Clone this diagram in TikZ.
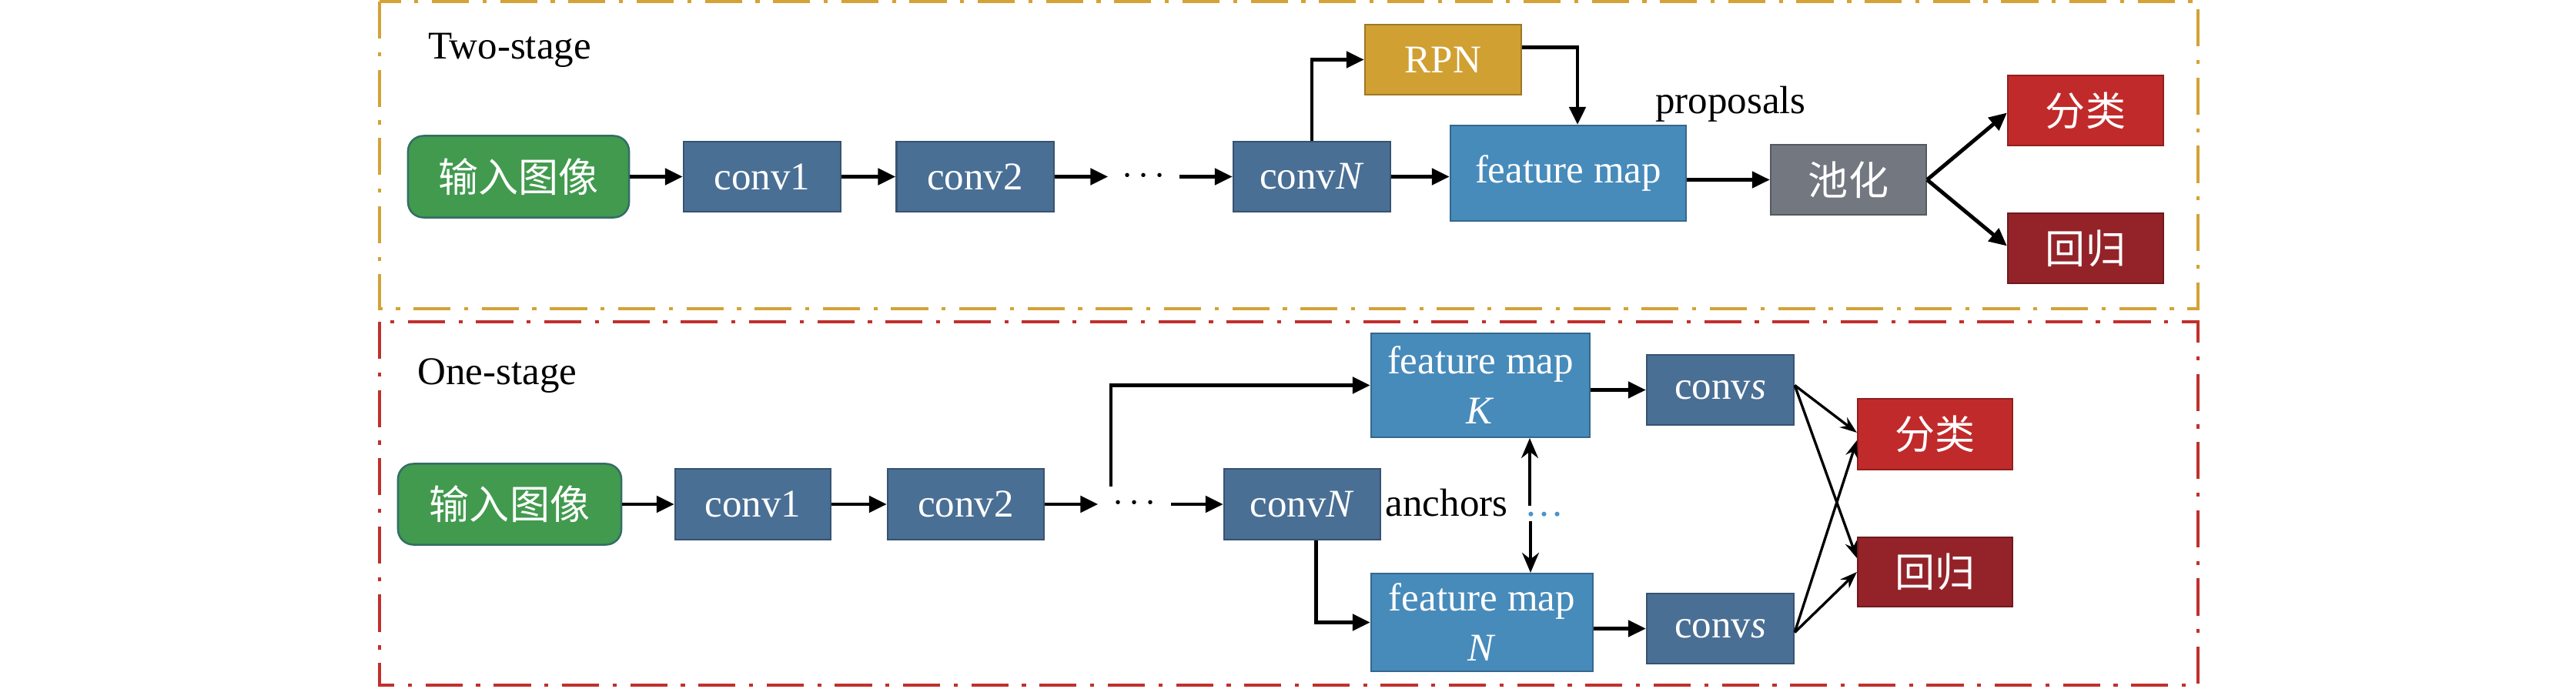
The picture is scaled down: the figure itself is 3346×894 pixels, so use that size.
\documentclass[tikz,border=0pt]{standalone}
\usepackage{fontspec}
\setmainfont{Liberation Serif}
\newfontfamily\cjk{Noto Sans CJK SC}
\usetikzlibrary{arrows.meta,calc}
\definecolor{goldframe}{HTML}{D4A236}
\definecolor{redframe}{HTML}{C1302C}
\definecolor{ingreen}{HTML}{419A4E}
\definecolor{inborder}{HTML}{336D66}
\definecolor{convblue}{HTML}{4A6F95}
\definecolor{fmblue}{HTML}{478BBB}
\definecolor{rpngold}{HTML}{D1A032}
\definecolor{poolgray}{HTML}{737780}
\definecolor{clsred}{HTML}{C12A2A}
\definecolor{regred}{HTML}{932329}
\definecolor{dotblue}{HTML}{4A93CC}
\newcommand{\mydots}{$\vcenter{\hbox{${\cdotp}\mkern2.5mu{\cdotp}\mkern2.5mu{\cdotp}$}}$}
\begin{document}
\begin{tikzpicture}[x=0.01cm,y=-0.01cm,
  every node/.style={font=\fontsize{14.5}{18.5}\selectfont},
  box/.style={draw=#1!75!black, fill=#1, line width=0.6pt, text=white, inner sep=0pt, align=center},
  convbox/.style={box=convblue, minimum width=2.04cm, minimum height=0.91cm},
  fmbox/.style={box=fmblue},
  cjkbox/.style={box=#1, minimum width=2.02cm, minimum height=0.91cm, font=\fontsize{14.8}{18}\selectfont\cjk},
  ingbox/.style={draw=inborder, fill=ingreen, line width=0.7pt, rounded corners=0.2cm, text=white, inner sep=0pt, font=\fontsize{14.8}{18}\selectfont\cjk},
  dotsnode/.style={inner sep=0pt, minimum height=0.4cm, font=\fontsize{15.5}{18}\selectfont},
  frame/.style={line width=1.2pt, dash pattern=on 13.7pt off 5pt on 1.5pt off 5pt},
  arr/.style={line width=1.4pt, -{Triangle[length=0.23cm,width=0.21cm]}},
  arrv/.style={line width=1pt, -{Stealth[length=0.26cm,width=0.22cm]}},
  thinarr/.style={line width=0.95pt, -{Stealth[length=0.22cm,width=0.16cm]}}
]
\useasboundingbox (0,0) rectangle (3346,894);
\draw[frame,draw=goldframe] (493,2) rectangle (2855,401);
\draw[frame,draw=redframe] (493,418) rectangle (2855,890);

% ---------- Two-stage ----------
\node (t2) at (662,65) {Two-stage};
\node[ingbox, minimum width=2.87cm, minimum height=1.06cm] (in1) at (673.5,229.5) {输入图像};
\node[convbox] (c1a) at (990,229.5) {conv1};
\node[convbox] (c2a) at (1266.5,229.5) {conv2};
\node[dotsnode, minimum width=0.91cm] (d1) at (1485.5,229.5) {\mydots};
\node[convbox] (cNa) at (1704,229.5) {conv\textit{N}};
\node[box=rpngold, minimum width=2.03cm, minimum height=0.91cm] (rpn) at (1874.5,77.5) {RPN};
\node[fmbox, minimum width=3.06cm, minimum height=1.24cm] (fma) at (2037,225) {feature map};
\node (prop) at (2248,135) {proposals};
\node[cjkbox=poolgray] (pool) at (2401,233.5) {池化};
\node[cjkbox=clsred] (cls1) at (2709,143.5) {分类};
\node[cjkbox=regred] (reg1) at (2709,322.5) {回归};

\draw[arr] (in1) -- (c1a);
\draw[arr] (c1a) -- (c2a);
\draw[arr] (c2a) -- (d1);
\draw[arr] (d1) -- (cNa);
\draw[arr] (cNa.north) |- (rpn.west);
\draw[arr] ($(rpn.north east)!0.33!(rpn.south east)$) -| ($(fma.north)+(12,0)$);
\draw[arr] (cNa.east) -- (cNa.east -| fma.west);
\draw[arr] (fma.east |- pool.west) -- (pool.west);
\draw[arr] (pool.east) -- ($(cls1.west)+(0,3)$);
\draw[arr] (pool.east) -- ($(reg1.west)+(0,-3)$);

% ---------- One-stage ----------
\node (t1) at (646,488) {One-stage};
\node[ingbox, minimum width=2.90cm, minimum height=1.05cm] (in2) at (662,655) {输入图像};
\node[convbox, minimum width=2.02cm, minimum height=0.92cm] (c1b) at (978,655) {conv1};
\node[convbox, minimum width=2.03cm, minimum height=0.92cm] (c2b) at (1254.5,655) {conv2};
\node[dotsnode, minimum width=0.93cm] (dB) at (1473.5,655) {\mydots};
\node[convbox, minimum width=2.03cm, minimum height=0.92cm] (cNb) at (1691.5,655) {conv\textit{N}};
\node[fmbox, minimum width=2.84cm, minimum height=1.35cm] (fmK) at (1923,500.5) {feature map\\\textit{K}};
\node[fmbox, minimum width=2.88cm, minimum height=1.27cm] (fmN) at (1925,808.5) {feature map\\\textit{N}};
\node[convbox, minimum width=1.91cm] (cs1) at (2234.5,506.5) {conv\textit{s}};
\node[convbox, minimum width=1.91cm] (cs2) at (2234.5,816.5) {conv\textit{s}};
\node[cjkbox=clsred, minimum width=2.01cm, minimum height=0.92cm] (cls2) at (2513.5,564) {分类};
\node[cjkbox=regred, minimum width=2.01cm, minimum height=0.90cm] (reg2) at (2513.5,743) {回归};
\node[anchor=base] (anc) at (1879,670) {anchors};
\node[anchor=base, text=dotblue] (adots) at (2006,670) {…};

\draw[arr] (in2) -- (c1b);
\draw[arr] (c1b) -- (c2b);
\draw[arr] (c2b) -- (dB);
\draw[arr] (dB) -- (cNb);
\coordinate (sp) at (1443,632);
\draw[arr] (sp) |- (fmK.west);
\draw[arr] ($(cNb.south)+(18,0)$) |- (fmN.west);
\draw[arr] (cs1.west -| fmK.east) -- (cs1.west);
\draw[arr] (cs2.west -| fmN.east) -- (cs2.west);
\coordinate (aup) at (1987,657);
\coordinate (adn) at (1988,677);
\draw[arrv] (aup) -- (aup |- fmK.south);
\draw[arrv] (adn) -- (adn |- fmN.north);
\draw[thinarr] ($(cs1.east)+(0,-6)$) -- ($(cls2.west)+(0,-2)$);
\draw[thinarr] ($(cs1.east)+(0,-6)$) -- ($(reg2.west)+(0,-18)$);
\draw[thinarr] ($(cs2.east)+(0,5)$) -- ($(cls2.west)+(0,8)$);
\draw[thinarr] ($(cs2.east)+(0,5)$) -- (reg2.west);
\end{tikzpicture}
\end{document}
